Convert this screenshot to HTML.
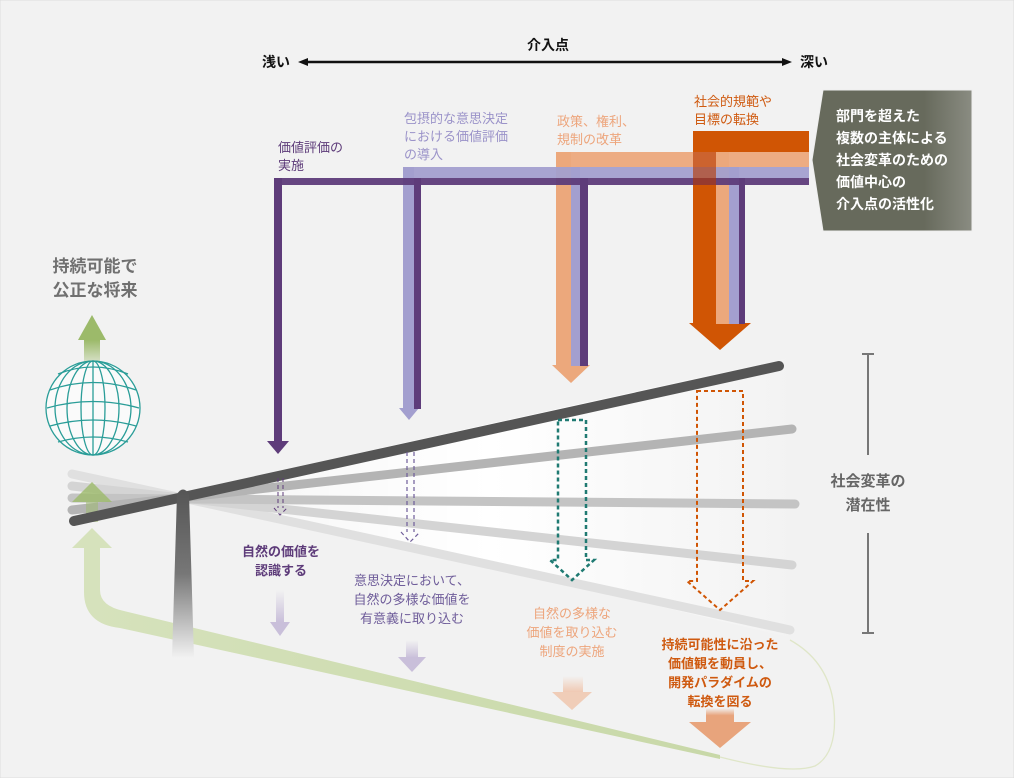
<!DOCTYPE html>
<html><head><meta charset="utf-8"><style>
body{margin:0;background:#fff}
svg{display:block}
text{font-family:"Liberation Sans","Noto Sans CJK JP",sans-serif}
</style></head><body>
<svg width="1014" height="778" viewBox="0 0 1014 778" xmlns="http://www.w3.org/2000/svg">
<defs>
<linearGradient id="box" x1="0" x2="1"><stop offset="0.7" stop-color="#676a5c"/><stop offset="1" stop-color="#8a8c82"/></linearGradient>
<linearGradient id="pil" x1="0" y1="0" x2="0" y2="1"><stop offset="0" stop-color="#555"/><stop offset="0.5" stop-color="#777"/><stop offset="1" stop-color="#f2f2f2"/></linearGradient>
<linearGradient id="gup" x1="0" y1="0" x2="0" y2="1"><stop offset="0" stop-color="#9cba6a"/><stop offset="1" stop-color="#f2f2f2"/></linearGradient>
<linearGradient id="glow" x1="0" x2="1"><stop offset="0" stop-color="#fff" stop-opacity="0.2"/><stop offset="0.5" stop-color="#fff"/><stop offset="1" stop-color="#f2f2f2"/></linearGradient>
<linearGradient id="fl" x1="0" y1="0" x2="0" y2="1"><stop offset="0" stop-color="#f2f2f2"/><stop offset="1" stop-color="#c9bfda"/></linearGradient>
<linearGradient id="fp" x1="0" y1="0" x2="0" y2="1"><stop offset="0" stop-color="#f2f2f2"/><stop offset="1" stop-color="#f0c9b3"/></linearGradient>
<linearGradient id="fo" x1="0" y1="0" x2="0" y2="1"><stop offset="0" stop-color="#f2f2f2"/><stop offset="0.5" stop-color="#e8a47c"/></linearGradient>
<linearGradient id="gb" x1="0" x2="1"><stop offset="0" stop-color="#d6e2bc"/><stop offset="1" stop-color="#c8d8a8"/></linearGradient>
</defs>
<rect width="1014" height="778" fill="#f2f2f2" stroke="#ddd"/>

<!-- axis -->
<text x="548" y="50" font-size="14" font-weight="bold" text-anchor="middle" fill="#111">介入点</text>
<text x="262" y="67" font-size="14" font-weight="bold" fill="#111">浅い</text>
<text x="800" y="67" font-size="14" font-weight="bold" fill="#111">深い</text>
<line x1="305" y1="62" x2="785" y2="62" stroke="#111" stroke-width="2.5"/>
<path d="M298 62 l10 -4 v8z M792 62 l-10 -4 v8z" fill="#111"/>

<!-- top labels -->
<g font-size="13">
<text x="278" y="152" fill="#5e3c7a">価値評価の</text><text x="278" y="170" fill="#5e3c7a">実施</text>
<text x="404" y="123" fill="#9b93c9">包摂的な意思決定</text><text x="404" y="141" fill="#9b93c9">における価値評価</text><text x="404" y="159" fill="#9b93c9">の導入</text>
<text x="557" y="126" fill="#eda57c">政策、権利、</text><text x="557" y="144" fill="#eda57c">規制の改革</text>
<text x="694" y="106" fill="#cf5a10">社会的規範や</text><text x="694" y="124" fill="#cf5a10">目標の転換</text>
</g>

<!-- glow -->
<polygon points="183,492 800,355 800,640" fill="url(#glow)"/>

<!-- bands -->
<rect x="693" y="131" width="116" height="21" fill="#d05504"/>
<rect x="693" y="131" width="23" height="193" fill="#d05504"/>
<path d="M689 323 h62 l-31 27z" fill="#d05504"/>
<rect x="556" y="152" width="253" height="15" fill="#eca87c" opacity="0.95"/>
<rect x="556" y="152" width="15" height="214" fill="#eca87c"/>
<path d="M552 365 h38 l-19 18z" fill="#eca87c"/>
<rect x="716" y="152" width="13" height="172" fill="#eca87c"/>
<rect x="403" y="167" width="406" height="11" fill="#a39fcf" opacity="0.95"/>
<rect x="403" y="167" width="11" height="242" fill="#a39fcf"/>
<path d="M399 408 h20 l-10 12z" fill="#a39fcf"/>
<rect x="571" y="167" width="9" height="199" fill="#a39fcf"/>
<rect x="729" y="167" width="10" height="157" fill="#a39fcf"/>
<rect x="274" y="178" width="535" height="7" fill="#5e3c7a" opacity="0.95"/>
<rect x="274" y="178" width="8" height="264" fill="#5e3c7a"/>
<path d="M267 441 h22 l-11 13z" fill="#5e3c7a"/>
<rect x="414" y="178" width="7" height="231" fill="#5e3c7a"/>
<rect x="580" y="178" width="8" height="188" fill="#5e3c7a"/>
<rect x="739" y="178" width="6" height="146" fill="#5e3c7a"/>
<rect x="693" y="152" width="23" height="33" fill="#b83800" opacity="0.6"/>

<!-- gray box -->
<path d="M823 90 H972 V231 H823 L812 160 Z" fill="url(#box)" stroke="#eee" stroke-width="1"/>
<g font-size="14" font-weight="bold" fill="#fff">
<text x="836" y="121">部門を超えた</text><text x="836" y="143">複数の主体による</text><text x="836" y="165">社会変革のための</text><text x="836" y="187">価値中心の</text><text x="836" y="209">介入点の活性化</text>
</g>

<!-- left -->
<text x="95" y="272" font-size="17" font-weight="bold" text-anchor="middle" fill="#707070">持続可能で</text>
<text x="95" y="296" font-size="17" font-weight="bold" text-anchor="middle" fill="#707070">公正な将来</text>
<path d="M78 340 L92 315 L106 340 Z" fill="#9cba6a"/>
<rect x="84" y="340" width="16" height="32" fill="url(#gup)"/>

<!-- green loop -->
<path d="M84 546 V592 Q84 624 120 628 L720 759 L720 755 L124 611 Q100 606 100 590 V546 Z" fill="url(#gb)"/>
<path d="M720 757 Q790 775 815 766 Q840 752 833 700 Q826 660 790 640" fill="none" stroke="#dfe6c8" stroke-width="1.3"/>
<path d="M72 548 L92 528 L112 548 Z" fill="#d6e2bc"/>

<!-- globe -->
<g stroke="#2a9d98" stroke-width="1.3" fill="none">
<circle cx="93" cy="408" r="47" fill="#fafafa"/>
<ellipse cx="93" cy="408" rx="12" ry="47"/><ellipse cx="93" cy="408" rx="26" ry="47"/><ellipse cx="93" cy="408" rx="38" ry="47"/>
<line x1="93" y1="361" x2="93" y2="455"/>
<path d="M50 390 Q93 375 136 390 M47 408 Q93 395 139 408 M50 426 Q93 414 136 426 M58 442 Q93 432 128 442 M58 374 Q93 360 128 374"/>
</g>

<!-- fan -->
<g stroke-linecap="round" stroke-width="9">
<line x1="72" y1="474" x2="790" y2="630" stroke="#e0e0e0"/>
<line x1="72" y1="486" x2="792" y2="565" stroke="#d4d4d4"/>
<line x1="72" y1="498" x2="795" y2="504" stroke="#c4c4c4"/>
<line x1="72" y1="510" x2="792" y2="429" stroke="#b4b4b4"/>
</g>
<path d="M72 502 L92 482 L112 502 Z" fill="#9cba6a" opacity="0.8"/>
<rect x="86" y="502" width="12" height="20" fill="#9cba6a" opacity="0.5"/>
<line x1="74" y1="521" x2="779" y2="366" stroke="#555" stroke-width="10" stroke-linecap="round"/>
<path d="M177 494 Q183 485 189 494 L194 658 H172 Z" fill="url(#pil)"/>

<!-- dashed arrows -->
<g fill="none" stroke-dasharray="4 3">
<path d="M278 478 V508 M283 478 V508 M274 508 L280 515 L287 508" stroke="#5e3c7a" stroke-width="1"/>
<path d="M407 452 V532 M414 452 V532 M401 532 L410 542 L420 532" stroke="#6f5d9a" stroke-width="1.2"/>
<path d="M558 420 H586 V560 L594 560 L572 580 L550 560 H558 Z" stroke="#1f7a72" stroke-width="2.5"/>
<path d="M697 391 H743 V581 L753 581 L720 610 L687 581 H697 Z" stroke="#d05504" stroke-width="2"/>
</g>

<!-- bottom labels -->
<g font-size="13" text-anchor="middle">
<text x="281" y="556" fill="#5e3c7a" font-weight="bold">自然の価値を</text><text x="281" y="575" fill="#5e3c7a" font-weight="bold">認識する</text>
<text x="412" y="585" fill="#6f5d9a">意思決定において、</text><text x="412" y="604" fill="#6f5d9a">自然の多様な価値を</text><text x="412" y="623" fill="#6f5d9a">有意義に取り込む</text>
<text x="572" y="618" fill="#eda57c">自然の多様な</text><text x="572" y="637" fill="#eda57c">価値を取り込む</text><text x="572" y="656" fill="#eda57c">制度の実施</text>
<text x="720" y="649" fill="#cf5a10" font-weight="bold">持続可能性に沿った</text><text x="720" y="668" fill="#cf5a10" font-weight="bold">価値観を動員し、</text><text x="720" y="687" fill="#cf5a10" font-weight="bold">開発パラダイムの</text><text x="720" y="706" fill="#cf5a10" font-weight="bold">転換を図る</text>
</g>
<rect x="276" y="590" width="8" height="32" fill="url(#fl)"/><path d="M270 622 h20 l-10 14z" fill="#c9bfda"/>
<rect x="406" y="640" width="12" height="18" fill="url(#fl)"/><path d="M398 657 h28 l-14 15z" fill="#c9bfda"/>
<rect x="563" y="676" width="20" height="16" fill="url(#fp)"/><path d="M552 692 h40 l-20 18z" fill="#f0cdb8"/>
<rect x="706" y="708" width="28" height="15" fill="url(#fo)"/><path d="M689 722 h62 l-31 26z" fill="#e8a47c"/>

<!-- bracket -->
<g stroke="#777" stroke-width="2">
<line x1="868" y1="354" x2="868" y2="455"/><line x1="862" y1="354" x2="874" y2="354"/>
<line x1="868" y1="533" x2="868" y2="633"/><line x1="862" y1="633" x2="874" y2="633"/>
</g>
<text x="868" y="486" font-size="15" font-weight="bold" text-anchor="middle" fill="#666">社会変革の</text>
<text x="868" y="510" font-size="15" font-weight="bold" text-anchor="middle" fill="#666">潜在性</text>
</svg>
</body></html>
